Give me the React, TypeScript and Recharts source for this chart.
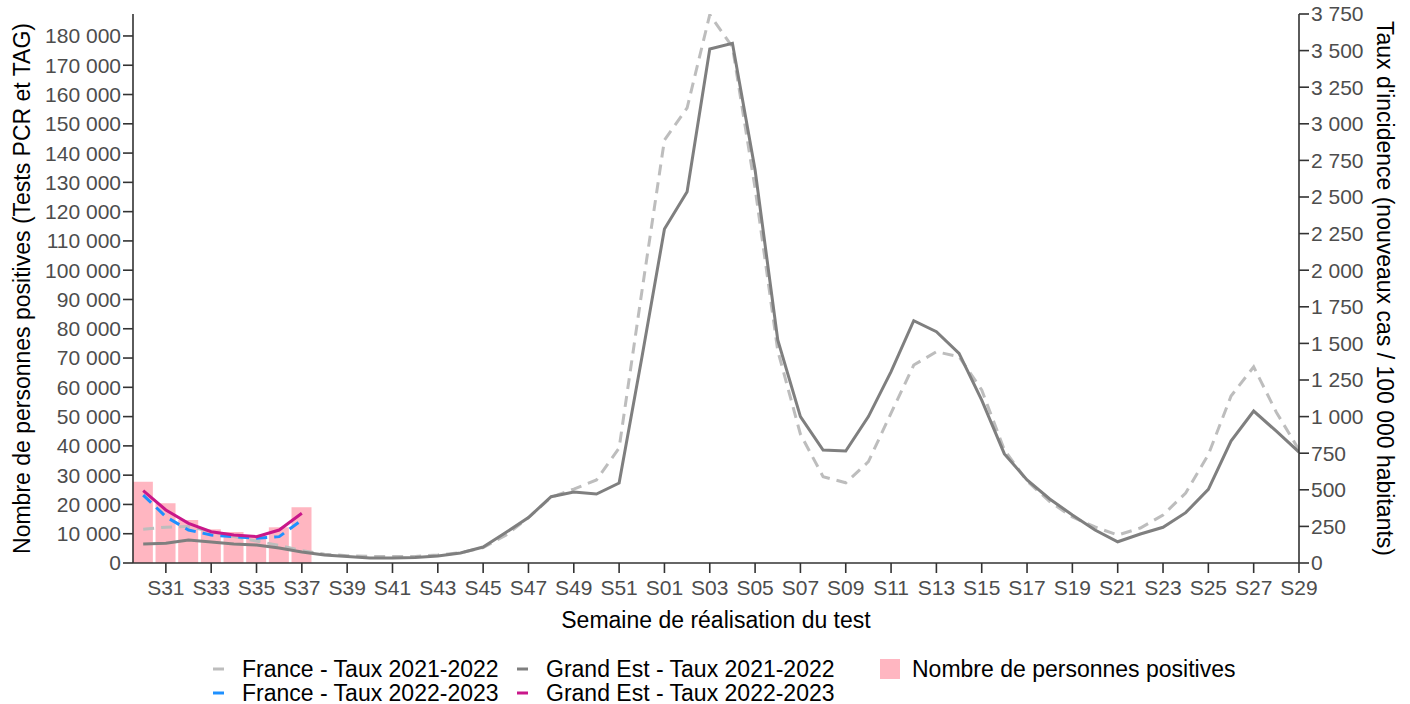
import React from 'react';
import { ComposedChart, Bar, Line, XAxis, YAxis } from 'recharts';

const weeks = [
  'S30', 'S31', 'S32', 'S33', 'S34', 'S35', 'S36', 'S37', 'S38', 'S39', 'S40', 'S41', 'S42',
  'S43', 'S44', 'S45', 'S46', 'S47', 'S48', 'S49', 'S50', 'S51', 'S52', 'S01', 'S02', 'S03',
  'S04', 'S05', 'S06', 'S07', 'S08', 'S09', 'S10', 'S11', 'S12', 'S13', 'S14', 'S15', 'S16',
  'S17', 'S18', 'S19', 'S20', 'S21', 'S22', 'S23', 'S24', 'S25', 'S26', 'S27', 'S28', 'S29',
];

// Nombre de personnes positives (Grand Est, 2022-2023)
const positives = [27760, 20390, 14680, 11500, 10590, 9500, 12190, 19020];

// Taux d'incidence
const franceRate2122 = [
  230, 245, 250, 215, 180, 150, 120, 85, 60, 50, 45, 45, 45, 55, 70, 105, 190, 310, 450, 505,
  567, 785, 1850, 2889, 3108, 3745, 3525, 2560, 1450, 880, 590, 548, 692, 1024, 1352, 1443,
  1409, 1182, 772, 560, 420, 314, 246, 191, 239, 328, 478, 740, 1140, 1340, 1030, 772,
];
const grandEstRate2122 = [
  130, 135, 157, 143, 130, 123, 102, 75, 55, 45, 35, 35, 38, 48, 68, 109, 208, 310, 453, 485,
  471, 546, 1400, 2281, 2536, 3511, 3550, 2684, 1523, 1000, 772, 765, 1000, 1307, 1655, 1580,
  1432, 1113, 745, 567, 437, 328, 225, 145, 198, 244, 344, 503, 833, 1038, 900, 758,
];
const franceRate2223 = [464, 316, 225, 191, 180, 169, 180, 294];
const grandEstRate2223 = [494, 362, 271, 214, 191, 180, 225, 340];

const xTicks = weeks.map((_, i) => i).filter((i) => i % 2 === 1);
const leftTicks = Array.from({ length: 19 }, (_, i) => i * 10000);
const rightTicks = Array.from({ length: 16 }, (_, i) => i * 250);

const data = weeks.map((w, i) => ({
  idx: i,
  week: w,
  positives: positives[i] ?? null,
  franceRate2122: franceRate2122[i] ?? null,
  grandEstRate2122: grandEstRate2122[i] ?? null,
  franceRate2223: franceRate2223[i] ?? null,
  grandEstRate2223: grandEstRate2223[i] ?? null,
}));

const C_FR21 = '#bdbdbd';
const C_GE21 = '#7f7f7f';
const C_FR22 = '#1e90ff';
const C_GE22 = '#c9178a';
const C_BAR = '#ffb6c1';

const FONT = '"Liberation Sans", Arial, Helvetica, sans-serif';
const fmt = (v: number) => String(v).replace(/\B(?=(\d{3})+(?!\d))/g, ' ');

const legendItems = [
  { label: 'France - Taux 2021-2022', color: C_FR21, kind: 'line', col: 0, row: 0 },
  { label: 'France - Taux 2022-2023', color: C_FR22, kind: 'line', col: 0, row: 1 },
  { label: 'Grand Est - Taux 2021-2022', color: C_GE21, kind: 'line', col: 1, row: 0 },
  { label: 'Grand Est - Taux 2022-2023', color: C_GE22, kind: 'line', col: 1, row: 1 },
  { label: 'Nombre de personnes positives', color: C_BAR, kind: 'box', col: 2, row: 0 },
];
const legendColX = [210, 514, 878];
const legendRowY = [657, 681];

const tickStyle = { fill: '#4d4d4d', fontSize: 21, fontFamily: FONT };
const axisStroke = { stroke: '#333333', strokeWidth: 1.6 };

const yTitle = (text: string, side: 'left' | 'right') => (props: any) => {
  const vb = props.viewBox || {};
  const cx = side === 'left' ? vb.x + 22 : vb.x + vb.width - 25;
  const cy = vb.y + vb.height / 2;
  return (
    <text
      x={cx}
      y={cy}
      transform={`rotate(${side === 'left' ? -90 : 90}, ${cx}, ${cy})`}
      textAnchor="middle"
      dominantBaseline="central"
      fontSize={23}
      fontFamily={FONT}
      fill="#000"
    >
      {text}
    </text>
  );
};

const xTitle = (props: any) => {
  const vb = props.viewBox || {};
  const cx = vb.x + vb.width / 2;
  const cy = vb.y + 57;
  return (
    <text x={cx} y={cy} textAnchor="middle" dominantBaseline="central" fontSize={23} fontFamily={FONT} fill="#000">
      Semaine de réalisation du test
    </text>
  );
};

export default function App() {
  return (
    <div style={{ position: 'absolute', left: 0, top: 0, width: 1410, height: 704, background: '#fff', fontFamily: FONT }}>
      <ComposedChart width={1410} height={704} data={data} margin={{ top: 14, right: 0, left: 0, bottom: 0 }}>
        <XAxis
          dataKey="idx"
          type="number"
          domain={[-0.45, 51]}
          allowDataOverflow
          ticks={xTicks}
          interval={0}
          tickFormatter={(v: number) => weeks[v]}
          height={141}
          tickSize={10}
          tickMargin={7}
          tick={tickStyle}
          tickLine={axisStroke}
          axisLine={axisStroke}
          label={{ content: xTitle }}
        />
        <YAxis
          yAxisId="left"
          orientation="left"
          width={133}
          domain={[0, 187500]}
          allowDataOverflow
          ticks={leftTicks}
          interval={0}
          tickFormatter={fmt}
          tickSize={10}
          tickMargin={2}
          tick={tickStyle}
          tickLine={axisStroke}
          axisLine={axisStroke}
          label={{ content: yTitle('Nombre de personnes positives (Tests PCR et TAG)', 'left') }}
        />
        <YAxis
          yAxisId="right"
          orientation="right"
          width={111}
          domain={[0, 3750]}
          allowDataOverflow
          ticks={rightTicks}
          interval={0}
          tickFormatter={fmt}
          tickSize={10}
          tickMargin={2}
          tick={tickStyle}
          tickLine={axisStroke}
          axisLine={axisStroke}
          label={{ content: yTitle("Taux d'incidence (nouveaux cas / 100 000 habitants)", 'right') }}
        />
        <Bar yAxisId="left" dataKey="positives" fill={C_BAR} barSize={20} isAnimationActive={false} />
        <Line yAxisId="right" dataKey="franceRate2122" stroke={C_FR21} strokeWidth={3} strokeDasharray="11 7" dot={false} activeDot={false} isAnimationActive={false} type="linear" />
        <Line yAxisId="right" dataKey="grandEstRate2122" stroke={C_GE21} strokeWidth={3} dot={false} activeDot={false} isAnimationActive={false} type="linear" />
        <Line yAxisId="right" dataKey="franceRate2223" stroke={C_FR22} strokeWidth={3} strokeDasharray="11 7" dot={false} activeDot={false} isAnimationActive={false} type="linear" />
        <Line yAxisId="right" dataKey="grandEstRate2223" stroke={C_GE22} strokeWidth={3} dot={false} activeDot={false} isAnimationActive={false} type="linear" />
      </ComposedChart>
      {legendItems.map((it) => (
        <div
          key={it.label}
          style={{
            position: 'absolute',
            left: legendColX[it.col],
            top: legendRowY[it.row],
            height: 24,
            display: 'flex',
            alignItems: 'center',
            fontSize: 23,
            color: '#000',
            whiteSpace: 'nowrap',
          }}
        >
          {it.kind === 'line' ? (
            <svg width={28} height={24} style={{ marginRight: 4 }}>
              <line x1={3} y1={12} x2={14} y2={12} stroke={it.color} strokeWidth={3} />
            </svg>
          ) : (
            <svg width={30} height={24} style={{ marginRight: 4 }}>
              <rect x={2} y={2} width={20} height={20} fill={it.color} />
            </svg>
          )}
          {it.label}
        </div>
      ))}
    </div>
  );
}
